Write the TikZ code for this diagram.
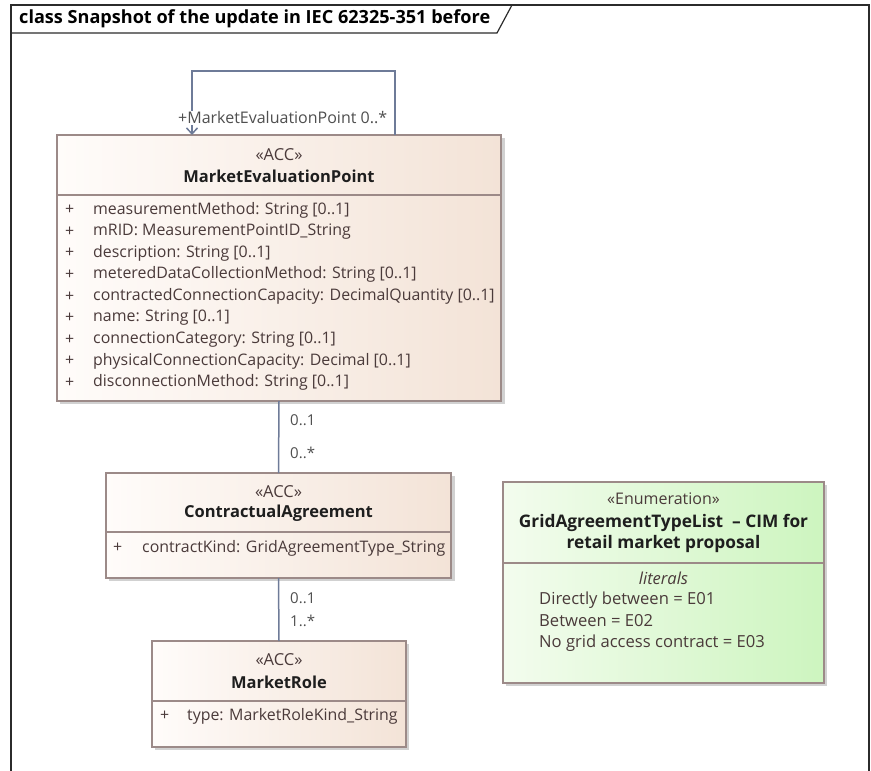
\documentclass[tikz,border=0pt]{standalone}
\usepackage{fontspec}
\setmainfont{Open Sans}
\usetikzlibrary{arrows.meta,calc}
\definecolor{framec}{HTML}{2B2B2B}
\definecolor{boxborder}{HTML}{9C8A88}
\definecolor{accL}{HTML}{FFFCFA}
\definecolor{accR}{HTML}{F3E3D7}
\definecolor{enL}{HTML}{F3FCEE}
\definecolor{enR}{HTML}{CDF5BF}
\definecolor{connc}{HTML}{6E7B98}
\definecolor{attrc}{HTML}{4A3A3A}
\definecolor{namec}{HTML}{1E1E1E}
\definecolor{lblc}{HTML}{4F4F4F}
\begin{document}
\begin{tikzpicture}[x=1pt,y=-1pt,
  classbox/.style={draw=boxborder, line width=1.2pt, left color=accL, right color=accR, inner sep=0, outer sep=0},
  enumbox/.style={draw=boxborder, line width=1.2pt, left color=enL, right color=enR, inner sep=0, outer sep=0},
  divider/.style={draw=boxborder, line width=1.2pt},
  conn/.style={draw=connc, line width=1.5pt},
  stereo/.style={text=attrc, font=\fontsize{16.5}{18}\selectfont, inner sep=0},
  cname/.style={text=namec, font=\fontsize{16.5}{21}\selectfont\bfseries, inner sep=0, align=center},
  attr/.style={anchor=west, text=attrc, font=\fontsize{15.9}{18}\selectfont, inner sep=0},
  lit/.style={anchor=west, text=attrc, font=\fontsize{16.6}{18}\selectfont, inner sep=0},
  mult/.style={anchor=west, text=lblc, font=\fontsize{15}{18}\selectfont, inner sep=0},
  titletext/.style={anchor=west, text=black, font=\fontsize{18.1}{20}\selectfont\bfseries, inner sep=0}
]
\useasboundingbox (0,0) rectangle (871,771);
% frame
\draw[framec, line width=1.6pt] (11,790) -- (11,5) -- (869,5) -- (869,790);
\draw[framec, line width=1.2pt] (11,33) -- (497,33) -- (512,5);
\node[titletext] (title) at (19,19) {class Snapshot of the update in IEC 62325-351 before};

% shadows
\fill[black!18] (60,138) rectangle (505,404);
\fill[black!18] (109,476) rectangle (455,581);
\fill[black!18] (155,644) rectangle (409,750);
\fill[black!18] (506,485) rectangle (827,686);

% MarketEvaluationPoint
\node[classbox, minimum width=444pt, minimum height=266pt] (mep) at (279,268) {};
\draw[divider] (mep.west |- 0,195) -- (mep.east |- 0,195);
\node[stereo] (mepst) at (279,155) {«ACC»};
\node[cname] (mepn) at (279,176) {MarketEvaluationPoint};
\foreach \i/\t in {0/{measurementMethod: String [0..1]},
                   1/{mRID: MeasurementPointID\_String},
                   2/{description: String [0..1]},
                   3/{meteredDataCollectionMethod: String [0..1]},
                   4/{contractedConnectionCapacity: DecimalQuantity [0..1]},
                   5/{name: String [0..1]},
                   6/{connectionCategory: String [0..1]},
                   7/{physicalConnectionCapacity: Decimal [0..1]},
                   8/{disconnectionMethod: String [0..1]}}{
  \node[attr] (mepp\i) at (65,210+21.6*\i) {+};
  \node[attr] (mepa\i) at (93,210+21.6*\i) {\t};
}

% ContractualAgreement
\node[classbox, minimum width=345pt, minimum height=105pt] (ca) at (278.5,525.5) {};
\draw[divider] (ca.west |- 0,532) -- (ca.east |- 0,532);
\node[stereo] (cast) at (278.5,492) {«ACC»};
\node[cname] (can) at (278.5,513) {ContractualAgreement};
\node[attr] (cap) at (113,548) {+};
\node[attr] (caa) at (142,548) {contractKind: GridAgreementType\_String};

% MarketRole
\node[classbox, minimum width=254pt, minimum height=106pt] (mr) at (279,694) {};
\draw[divider] (mr.west |- 0,701) -- (mr.east |- 0,701);
\node[stereo] (mrst) at (279,660) {«ACC»};
\node[cname] (mrn) at (279,682) {MarketRole};
\node[attr] (mrp) at (160,716) {+};
\node[attr] (mra) at (187,716) {type: MarketRoleKind\_String};

% Enumeration
\node[enumbox, minimum width=321pt, minimum height=201pt] (en) at (663.5,582.5) {};
\draw[divider] (en.west |- 0,563) -- (en.east |- 0,563);
\node[stereo, font=\fontsize{16}{18}\selectfont] (enst) at (663.5,499) {«Enumeration»};
\node[cname, font=\fontsize{17.3}{21}\selectfont\bfseries] (enn) at (663.5,533) {GridAgreementTypeList\ \ -- CIM for\\retail market proposal};
\node[stereo, font=\fontsize{16.5}{18}\selectfont\itshape] (enl) at (663.5,578) {literals};
\node[lit] (enl1) at (539,600) {Directly between = E01};
\node[lit] (enl2) at (539,621) {Between = E02};
\node[lit] (enl3) at (539,643) {No grid access contract = E03};

% connectors
\draw[conn] (mep.south) -- (ca.north);
\node[mult] (m1) at (290,420) {0..1};
\node[mult] (m2) at (290,453) {0..*};
\draw[conn] (ca.south) -- (mr.north);
\node[mult] (m3) at (290,598) {0..1};
\node[mult] (m4) at (290,621) {1..*};

% self association
\coordinate (sr) at ($(mep.north west)+(338,0)$);
\coordinate (sl) at ($(mep.north west)+(135,0)$);
\draw[conn, -{Straight Barb[length=6pt,width=11pt]}] (sr) -- (sr |- 0,71) -- (sl |- 0,71) -- (sl);
\node[anchor=west, fill=white, text=lblc, font=\fontsize{16}{18}\selectfont, inner sep=0.5pt] (selfl) at (177.5,118) {+MarketEvaluationPoint 0..*};
\end{tikzpicture}
\end{document}
